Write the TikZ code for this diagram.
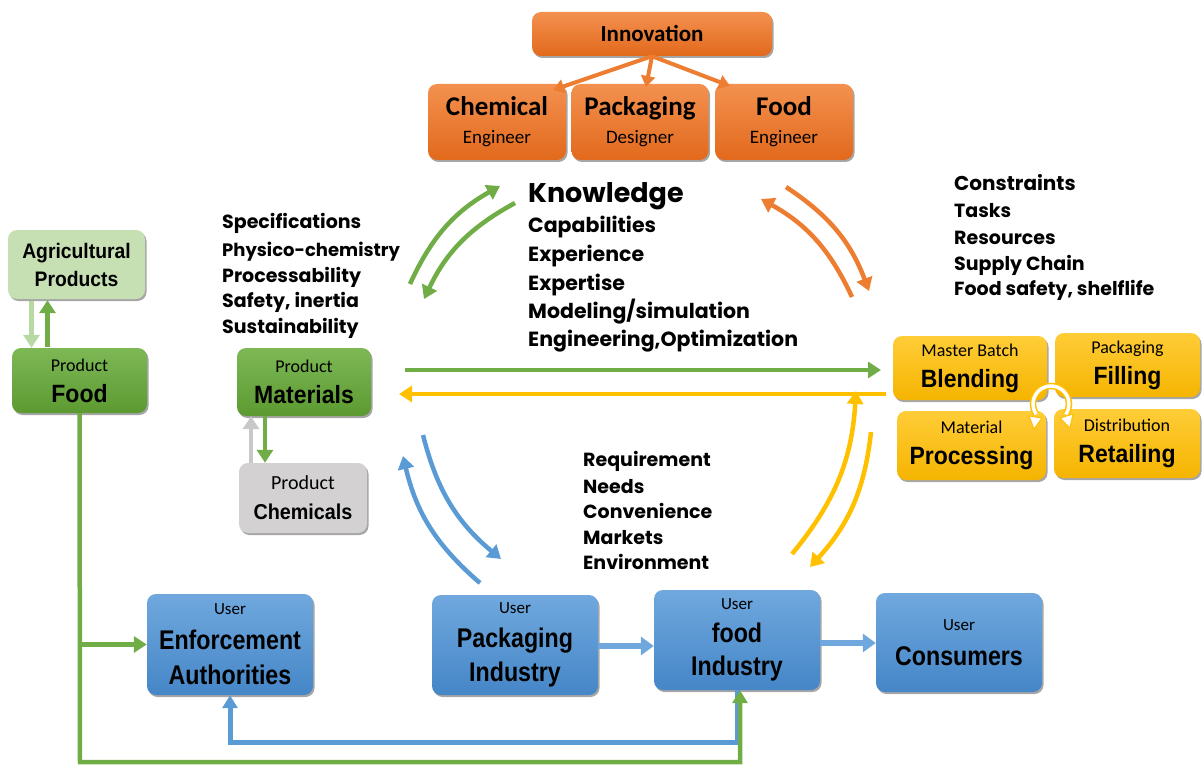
\documentclass[tikz,border=0pt]{standalone}
\usepackage{fontspec}
\setmainfont{Carlito}
\newfontfamily\futf{Poppins}
\newfontfamily\arf{Liberation Sans}[FakeStretch=0.92]
\newfontfamily\arnf{Liberation Sans}[FakeStretch=0.86]
\usetikzlibrary{arrows.meta,shadows,calc}
\definecolor{ORt}{HTML}{F3914F}
\definecolor{ORb}{HTML}{E2691C}
\definecolor{ORa}{HTML}{ED7D31}
\definecolor{GRt}{HTML}{7DB855}
\definecolor{GRb}{HTML}{5C9A31}
\definecolor{GRa}{HTML}{70AD47}
\definecolor{LG}{HTML}{C6E0B4}
\definecolor{LGa}{HTML}{B9D9A4}
\definecolor{GY}{HTML}{D3D1D1}
\definecolor{GYa}{HTML}{C9C7C7}
\definecolor{BLt}{HTML}{70A8DE}
\definecolor{BLb}{HTML}{4586C7}
\definecolor{BLa}{HTML}{5B9BD5}
\definecolor{YEt}{HTML}{FFCD38}
\definecolor{YEb}{HTML}{F5B400}
\definecolor{YEa}{HTML}{FFC000}
\newcommand\subt[1]{{\fontsize{18}{20}\selectfont #1}}
\newcommand\ttl[1]{{\arf\fontsize{25}{26}\selectfont\bfseries #1}}
\newcommand\uttl[1]{{\arnf\fontsize{27}{28}\selectfont\bfseries #1}}
\newcommand\usr{{\fontsize{17}{19}\selectfont User}}
\begin{document}
\begin{tikzpicture}[x=1pt,y=-1pt,
  box/.style={rounded corners=9pt, inner sep=0pt, align=center, text=black,
    drop shadow={shadow xshift=1.5pt, shadow yshift=-2pt, opacity=0.35, fill=black}},
  obox/.style={box, top color=ORt, bottom color=ORb},
  gbox/.style={box, top color=GRt, bottom color=GRb},
  lgbox/.style={box, fill=LG},
  gybox/.style={box, fill=GY},
  bbox/.style={box, top color=BLt, bottom color=BLb},
  ybox/.style={box, top color=YEt, bottom color=YEb},
  tip/.style={-{Triangle[length=13pt,width=16pt]}},
  arr/.style={line width=4.5pt, tip},
  hd/.style={font=\futf\bfseries\fontsize{19}{20}\selectfont, anchor=base west, inner sep=0pt},
  kd/.style={hd, font=\futf\bfseries\fontsize{20.5}{22}\selectfont},
]
\useasboundingbox (0,0) rectangle (1203,773);

% ---------- top orange boxes
\node[obox, minimum width=240pt, minimum height=44pt] (inno) at (652,34)
  {\fontsize{23}{24}\selectfont\bfseries Innovation};
\node[obox, minimum width=138pt, minimum height=76pt, font=\fontsize{18}{28}\selectfont] (ce) at (497,122)
  {{\fontsize{27}{28}\selectfont\bfseries Chemical}\\{\fontsize{19}{20}\selectfont Engineer}};
\node[obox, minimum width=137pt, minimum height=76pt, font=\fontsize{18}{28}\selectfont] (pd) at (640,122)
  {{\fontsize{27}{28}\selectfont\bfseries Packaging}\\{\fontsize{19}{20}\selectfont Designer}};
\node[obox, minimum width=138pt, minimum height=76pt, font=\fontsize{18}{28}\selectfont] (fe) at (784,122)
  {{\fontsize{27}{28}\selectfont\bfseries Food}\\{\fontsize{19}{20}\selectfont Engineer}};
\coordinate (i1) at (553,90);
\coordinate (i2) at (646,87);
\coordinate (i3) at (730,86);
\draw[ORa, line width=4pt, -{Triangle[length=11pt,width=14pt]}] (inno.south) -- (i1);
\draw[ORa, line width=4pt, -{Triangle[length=11pt,width=14pt]}] (inno.south) -- (i2);
\draw[ORa, line width=4pt, -{Triangle[length=11pt,width=14pt]}] (inno.south) -- (i3);

% ---------- left green boxes
\node[lgbox, minimum width=137pt, minimum height=69pt, font=\fontsize{18}{28}\selectfont] (agri) at (76.5,264.5)
  {{\arf\fontsize{21}{22}\selectfont\bfseries Agricultural}\\{\arf\fontsize{21}{22}\selectfont\bfseries Products}};
\node[gbox, minimum width=135pt, minimum height=65pt, font=\fontsize{18}{31}\selectfont] (pfood) at (79.5,380.5)
  {\subt{Product}\\\ttl{Food}};
\draw[LGa, arr] ($(agri.south)+(-45,2)$) -- ($(pfood.north)+(-48,0)$);
\draw[GRa, arr] ($(pfood.north)+(-32,-1)$) -- ($(agri.south)+(-29,1)$);

\node[gbox, minimum width=134pt, minimum height=68pt, font=\fontsize{18}{31}\selectfont] (mat) at (304,382)
  {\subt{Product}\\\ttl{Materials}};
\node[gybox, minimum width=128pt, minimum height=70pt, font=\fontsize{18}{30}\selectfont] (chem) at (303,498)
  {{\fontsize{20}{22}\selectfont Product}\\{\arf\fontsize{21.5}{24}\selectfont\bfseries Chemicals}};
\draw[GYa, line width=4pt, tip] ($(chem.north)+(-52,0)$) -- ($(mat.south)+(-53,0)$);
\draw[GRa, line width=4pt, tip] ($(mat.south)+(-39,0)$) -- ($(chem.north)+(-38,0)$);

% ---------- yellow boxes
\node[ybox, minimum width=154pt, minimum height=64pt, font=\fontsize{18}{31}\selectfont] (mb) at (970,368)
  {\subt{Master Batch}\\\ttl{Blending}};
\node[ybox, minimum width=145pt, minimum height=64pt, font=\fontsize{18}{31}\selectfont] (pf) at (1127.5,365)
  {\subt{Packaging}\\\ttl{Filling}};
\node[ybox, minimum width=149pt, minimum height=69pt, font=\fontsize{18}{31}\selectfont] (mp) at (971.5,445.5)
  {\subt{Material}\\\ttl{Processing}};
\node[ybox, minimum width=146pt, minimum height=69pt, font=\fontsize{18}{31}\selectfont] (dr) at (1127,443.5)
  {\subt{Distribution}\\\ttl{Retailing}};
\coordinate (cyc) at (1051,404);
\draw[YEa, line width=6.5pt] (cyc) ++(-215:18) arc[start angle=-215, end angle=35, radius=18];
\draw[white, line width=3.5pt] (cyc) ++(-215:18) arc[start angle=-215, end angle=35, radius=18];
\draw[YEa, fill=white, line width=1pt] (1029,416) -- (1042,418) -- (1034,429) -- cycle;
\draw[YEa, fill=white, line width=1pt] (1060,418) -- (1073,414) -- (1070,428) -- cycle;

% ---------- blue boxes
\node[bbox, minimum width=166pt, minimum height=101pt, font=\fontsize{18}{35}\selectfont] (ea) at (230,644.5)
  {\usr\\\uttl{Enforcement}\\\uttl{Authorities}};
\node[bbox, minimum width=166pt, minimum height=100pt, font=\fontsize{18}{34}\selectfont] (pi) at (515,645)
  {\usr\\\uttl{Packaging}\\\uttl{Industry}};
\node[bbox, minimum width=166pt, minimum height=100pt, font=\fontsize{18}{33}\selectfont] (fi) at (737,640)
  {\usr\\\uttl{food}\\\uttl{Industry}};
\node[bbox, minimum width=166pt, minimum height=99pt, font=\fontsize{18}{35}\selectfont] (cons) at (959,642.5)
  {\usr\\\uttl{Consumers}};
\draw[BLt, line width=6pt, -{Triangle[length=13pt,width=18pt]}] (pi.east |- 0,646) -- (fi.west |- 0,646);
\draw[BLt, line width=6pt, -{Triangle[length=13pt,width=18pt]}] (fi.east |- 0,643) -- (cons.west |- 0,643);

% bottom loops
\coordinate (bl) at (230,742);
\draw[BLa, line width=5pt, -{Triangle[length=13pt,width=15pt]}] (fi.south) |- (bl) -- (ea.south);
\coordinate (gl) at (80,762);
\draw[GRa, line width=4.5pt, -{Triangle[length=13pt,width=15pt]}] (pfood.south) -- (gl) -| ($(fi.south)+(3,0)$);
\draw[GRa, line width=4.5pt, tip] (pfood.south |- ea.west) -- (ea.west);

% ---------- horizontal arrows
\coordinate (h1a) at (405,370);
\coordinate (h1b) at (881,370);
\coordinate (h2a) at (886,394);
\coordinate (h2b) at (399,394);
\draw[GRa, arr] (h1a) -- (h1b);
\draw[YEa, arr] (h2a) -- (h2b);

% ---------- curved arrow pairs
\coordinate (g1a) at (410,284); \coordinate (g1b) at (500,186);
\coordinate (g2a) at (515,203); \coordinate (g2b) at (424,299);
\draw[GRa, arr] (g1a) to[bend left=18] (g1b);
\draw[GRa, arr] (g2a) to[bend right=18] (g2b);
\coordinate (o1a) at (786,187); \coordinate (o1b) at (869,291);
\coordinate (o2a) at (852,297); \coordinate (o2b) at (761,199);
\draw[ORa, arr] (o1a) to[bend left=18] (o1b);
\draw[ORa, arr] (o2a) to[bend right=18] (o2b);
\coordinate (b1a) at (480,583); \coordinate (b1b) at (403,456);
\coordinate (b2a) at (423,435); \coordinate (b2b) at (501,559);
\draw[BLa, arr] (b1a) to[bend left=18] (b1b);
\draw[BLa, arr] (b2a) to[bend right=18] (b2b);
\coordinate (y1a) at (792,554); \coordinate (y1b) at (856,391);
\coordinate (y2a) at (871,432); \coordinate (y2b) at (810,567);
\draw[YEa, arr] (y1a) to[bend right=18] (y1b);
\draw[YEa, arr] (y2a) to[bend left=18] (y2b);

% ---------- text blocks
\node[hd] (s1) at (222,229) {Specifications};
\node[hd, font=\futf\bfseries\fontsize{18}{20}\selectfont] (s2) at (222,256) {Physico-chemistry};
\node[hd] (s3) at (222,282) {Processability};
\node[hd] (s4) at (222,307) {Safety, inertia};
\node[hd] (s5) at (222,333) {Sustainability};

\node[hd, font=\futf\bfseries\fontsize{27}{28}\selectfont] (k1) at (528,203) {Knowledge};
\node[kd] (k2) at (528,233) {Capabilities};
\node[kd] (k3) at (528,261) {Experience};
\node[kd] (k4) at (528,290) {Expertise};
\node[kd] (k5) at (528,318) {Modeling/simulation};
\node[kd] (k6) at (528,346) {Engineering,Optimization};

\node[hd, font=\futf\bfseries\fontsize{20}{22}\selectfont] (c1) at (954,191) {Constraints};
\node[hd] (c2) at (954,218) {Tasks};
\node[hd] (c3) at (954,244) {Resources};
\node[hd] (c4) at (954,270) {Supply Chain};
\node[hd] (c5) at (954,295) {Food safety, shelflife};

\node[hd] (r1) at (583,466) {Requirement};
\node[hd] (r2) at (583,493) {Needs};
\node[hd] (r3) at (583,518) {Convenience};
\node[hd] (r4) at (583,544) {Markets};
\node[hd] (r5) at (583,569) {Environment};
\end{tikzpicture}
\end{document}
